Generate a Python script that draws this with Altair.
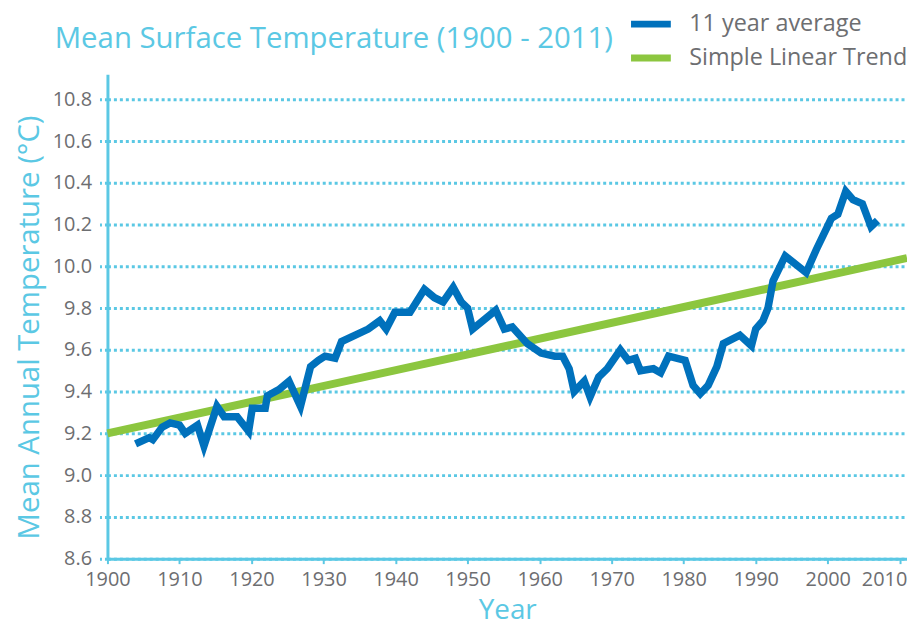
import altair as alt
import pandas as pd

# 11-year running average
avg_years = [1903.9, 1905.8, 1906.3, 1907.6, 1908.7, 1910.0, 1910.8, 1912.5, 1913.4, 1915.2,
             1916.2, 1918.0, 1919.6, 1920.1, 1921.9, 1922.2, 1923.8, 1925.2, 1926.8, 1928.2,
             1929.3, 1930.2, 1931.6, 1932.5, 1936.2, 1937.8, 1938.7, 1939.9, 1942.0, 1944.0,
             1945.4, 1946.6, 1948.0, 1949.1, 1950.0, 1950.7, 1953.9, 1955.1, 1956.2, 1958.3,
             1960.2, 1962.1, 1963.2, 1964.1, 1964.8, 1966.2, 1967.0, 1968.2, 1969.4, 1971.2,
             1972.3, 1973.3, 1974.0, 1975.8, 1976.8, 1977.9, 1980.2, 1981.3, 1982.3, 1983.4,
             1984.6, 1985.5, 1987.8, 1989.4, 1990.0, 1991.0, 1991.7, 1992.4, 1994.1, 1997.0,
             1998.4, 2000.5, 2001.4, 2002.5, 2003.5, 2004.8, 2006.0, 2006.9]
avg_temps = [9.15, 9.18, 9.17, 9.23, 9.25, 9.24, 9.20, 9.24, 9.14, 9.33,
             9.28, 9.28, 9.21, 9.32, 9.32, 9.38, 9.41, 9.45, 9.33, 9.52,
             9.55, 9.57, 9.56, 9.64, 9.70, 9.74, 9.70, 9.78, 9.78, 9.89,
             9.85, 9.83, 9.90, 9.83, 9.80, 9.70, 9.79, 9.70, 9.71, 9.63,
             9.585, 9.57, 9.57, 9.51, 9.40, 9.45, 9.375, 9.47, 9.51, 9.60,
             9.55, 9.56, 9.50, 9.51, 9.49, 9.57, 9.55, 9.43, 9.39, 9.43,
             9.52, 9.63, 9.67, 9.62, 9.70, 9.74, 9.80, 9.93, 10.05, 9.97,
             10.08, 10.23, 10.25, 10.36, 10.32, 10.30, 10.19, 10.22]

# Simple linear trend end points
trend_years = [1900, 2011]
trend_temps = [9.20, 10.04]

series_names = ["11 year average", "Simple Linear Trend"]
series_colors = ["#0071bc", "#8cc63f"]

x_ticks = list(range(1900, 2011, 10))
y_ticks = [8.6, 8.8, 9.0, 9.2, 9.4, 9.6, 9.8, 10.0, 10.2, 10.4, 10.6, 10.8]

avg_df = pd.DataFrame({"Year": avg_years, "Temp": avg_temps, "Series": series_names[0]})
trend_df = pd.DataFrame({"Year": trend_years, "Temp": trend_temps, "Series": series_names[1]})

CYAN = "#5bc8e4"
GRAY = "#6d6e71"
FONT = "Open Sans"

x_enc = alt.X("Year:Q",
              scale=alt.Scale(domain=[1900, 2011], nice=False, zero=False),
              axis=alt.Axis(values=x_ticks, format="d", title="Year",
                            labelAlign={"condition": {"test": "datum.value >= 2010",
                                                      "value": "right"},
                                        "value": "center"},
                            labelOffset={"condition": {"test": "datum.value >= 2010",
                                                       "value": 7},
                                         "value": 0}))
y_enc = alt.Y("Temp:Q",
              scale=alt.Scale(domain=[8.6, 10.92], nice=False, zero=False),
              axis=alt.Axis(values=y_ticks, format=".1f",
                            title="Mean Annual Temperature (°C)"))
color_enc = alt.Color("Series:N",
                      scale=alt.Scale(domain=series_names, range=series_colors),
                      legend=alt.Legend(title=None, orient="none", legendX=527, legendY=-70,
                                        symbolType="M-1.25,0H1.25", symbolSize=1024,
                                        symbolStrokeWidth=7, labelFontSize=23.5,
                                        labelColor=GRAY, labelFont=FONT, labelOffset=19,
                                        labelLimit=400, rowPadding=0))

trend = alt.Chart(trend_df).mark_line(strokeWidth=8).encode(x=x_enc, y=y_enc, color=color_enc)
avg = alt.Chart(avg_df).mark_line(strokeWidth=7.5, strokeJoin="miter").encode(
    x=x_enc, y=y_enc, color=color_enc)

chart = (alt.layer(trend, avg)
         .properties(width=804, height=487,
                     autosize=alt.AutoSizeParams(type="none"),
                     padding={"left": 100, "top": 65, "right": 0, "bottom": 66},
                     title=alt.TitleParams("Mean Surface Temperature (1900 - 2011)",
                                           anchor="start", frame="group", dx=-53, dy=50,
                                           offset=0, fontSize=29.5, font=FONT,
                                           fontWeight="normal", color=CYAN))
         .configure_view(stroke=None)
         .configure_axisX(domainColor=CYAN, domainWidth=3, tickColor=CYAN, tickWidth=2,
                          tickSize=5, labelColor=GRAY, labelFontSize=20, labelFont=FONT,
                          labelPadding=6, labelFlush=False, grid=False, titleColor=CYAN,
                          titleFontSize=28, titleFont=FONT, titleFontWeight="normal",
                          titlePadding=7)
         .configure_axisY(domainColor=CYAN, domainWidth=3, tickColor=CYAN, tickWidth=3,
                          tickSize=8, tickDash=[3, 3], labelColor=GRAY, labelFontSize=20,
                          labelFont=FONT, labelPadding=8, grid=True, gridColor=CYAN,
                          gridWidth=3, gridDash=[3, 3], titleColor=CYAN, titleFontSize=29.5,
                          titleFont=FONT, titleFontWeight="normal", titlePadding=8,
                          titleY=254)
         )

chart.save("out.html", embed_options={"renderer": "svg", "actions": False})
